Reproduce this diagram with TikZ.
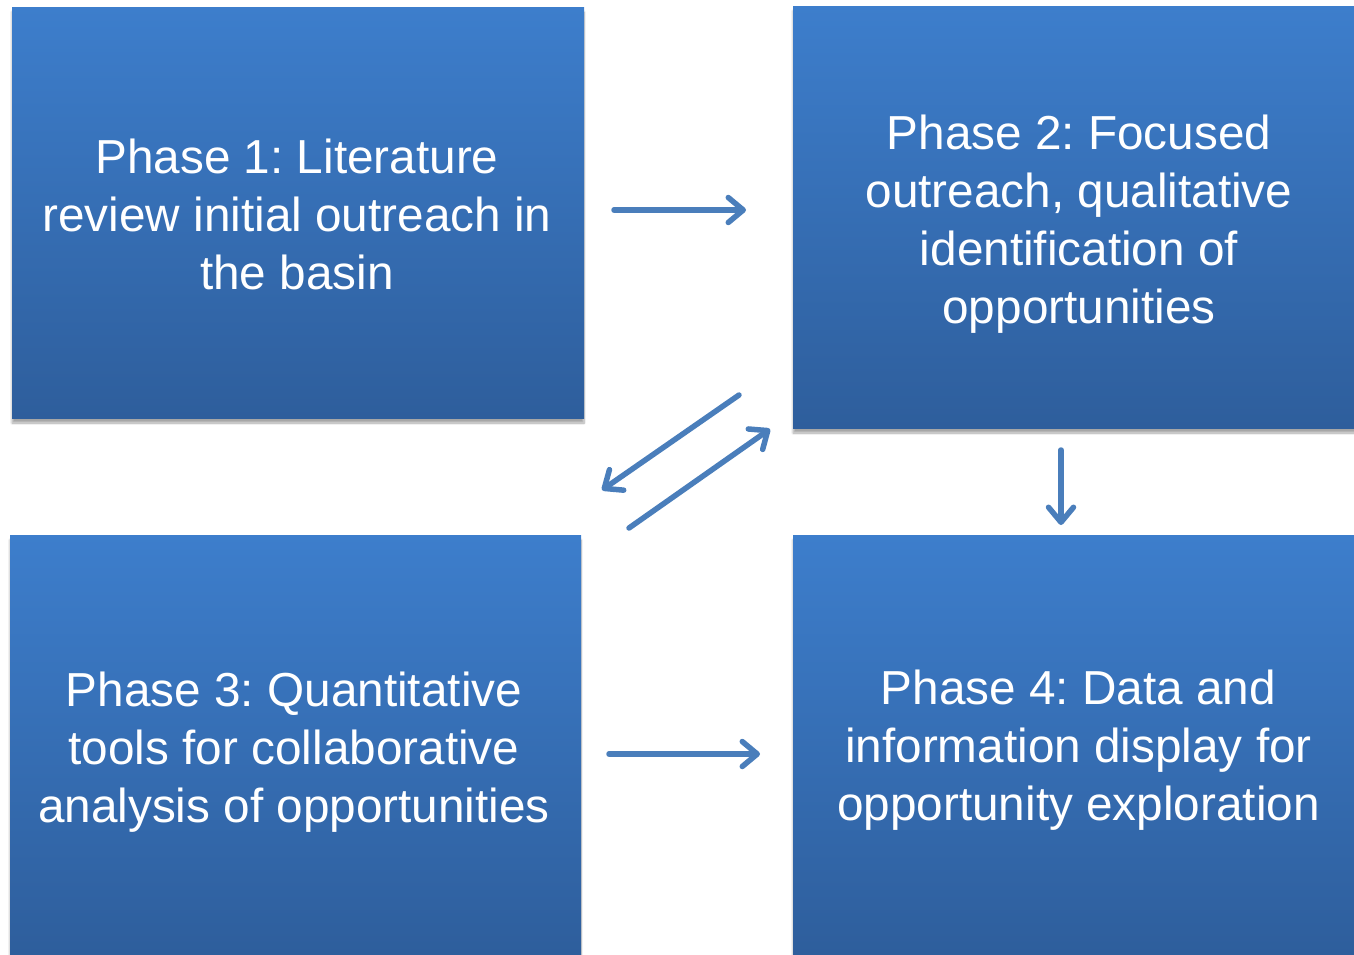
\documentclass[tikz,border=0pt]{standalone}
\usepackage{fontspec}
\setmainfont{Liberation Sans}
\usetikzlibrary{arrows.meta,shadows.blur}
\definecolor{boxtop}{RGB}{61,126,204}
\definecolor{boxbot}{RGB}{46,94,156}
\definecolor{arrowc}{RGB}{74,126,187}
\tikzset{
  phasebox/.style={rectangle, inner sep=0pt, top color=boxtop, bottom color=boxbot,
    draw=none,
    blur shadow={shadow xshift=0pt, shadow yshift=-5pt, shadow blur steps=8, shadow opacity=35}},
  phasetext/.style={inner sep=0pt, text=white, align=center,
    font=\frenchspacing\fontsize{47.7}{58}\selectfont},
  flow/.style={draw=arrowc, line width=5.5pt, line cap=round,
    -{Straight Barb[length=15pt,width=25pt,round]}}
}
\begin{document}
\begin{tikzpicture}[x=1pt,y=-1pt]
\useasboundingbox (0,0) rectangle (1354,954);
\begin{scope}
\clip (0,0) rectangle (1354,954);
\node[phasebox, minimum width=572pt, minimum height=411pt] (p1) at (298,212.5) {};
\node[phasebox, minimum width=572pt, minimum height=422pt] (p2) at (1079,217) {};
\node[phasebox, minimum width=571pt, minimum height=420pt] (p3) at (295.5,745) {};
\node[phasebox, minimum width=572pt, minimum height=420pt] (p4) at (1079,745) {};
\end{scope}
\node[phasetext] (t1) at (297,214) {Phase 1: Literature\\review initial outreach in\\the basin};
\node[phasetext] (t2) at (1079,224) {Phase 2: Focused\\outreach, qualitative\\identification of\\opportunities};
\node[phasetext] (t3) at (294,752) {Phase 3: Quantitative\\tools for collaborative\\analysis of opportunities};
\node[phasetext] (t4) at (1078.5,750.5) {Phase 4: Data and\\information display for\\opportunity exploration};
\coordinate (a1s) at (614,210);
\coordinate (a1e) at (746,210);
\coordinate (a2s) at (739,395);
\coordinate (a2e) at (602,490);
\coordinate (a3s) at (629,528);
\coordinate (a3e) at (770,429);
\coordinate (a4s) at (1061,450);
\coordinate (a4e) at (1061,525);
\coordinate (a5s) at (609,754);
\coordinate (a5e) at (760,754);
\draw[flow] (a1s) -- (a1e);
\draw[flow] (a2s) -- (a2e);
\draw[flow] (a3s) -- (a3e);
\draw[flow] (a4s) -- (a4e);
\draw[flow] (a5s) -- (a5e);
\end{tikzpicture}
\end{document}
